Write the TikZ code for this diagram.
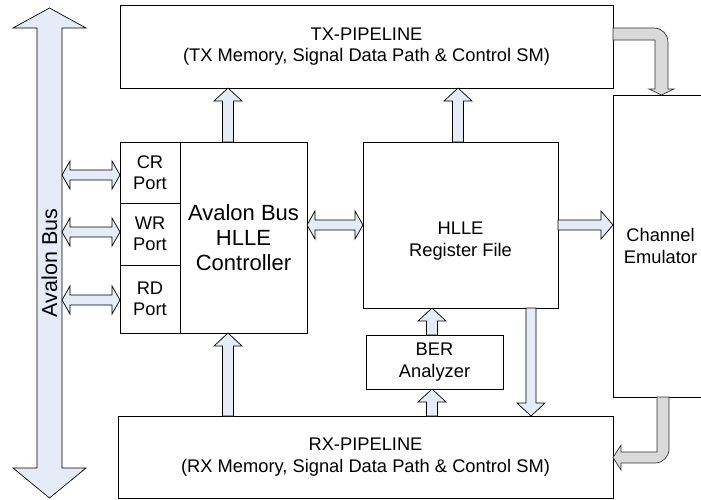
\documentclass[tikz,border=0pt]{standalone}
\usepackage{fontspec}
\setmainfont{Liberation Sans}
\usetikzlibrary{calc}
\definecolor{arrowblue}{RGB}{230,236,247}
\definecolor{arrowgray}{RGB}{218,218,218}
\tikzset{
  blk/.style={draw=black, line width=0.7pt, fill=arrowblue, line join=miter},
  gblk/.style={draw=black!80, line width=0.7pt, fill=arrowgray},
  box/.style={draw=black, line width=0.8pt, anchor=north west, inner sep=0pt, outer sep=0pt, align=center},
  txt/.style={font=\fontsize{18.3}{21.5}\selectfont},
  bigtxt/.style={font=\fontsize{22}{25}\selectfont}
}
\newcommand\vup[3]{\draw[blk] let \p1=(#2), \p2=(#3) in
 ({#1-5.5pt},\y1) -- ({#1-5.5pt},{\y2-13pt}) -- ({#1-14pt},{\y2-13pt}) -- (#1,\y2) -- ({#1+14pt},{\y2-13pt}) -- ({#1+5.5pt},{\y2-13pt}) -- ({#1+5.5pt},\y1) -- cycle;}
\newcommand\vdown[3]{\draw[blk] let \p1=(#2), \p2=(#3) in
 ({#1-5pt},\y1) -- ({#1-5pt},{\y2+13pt}) -- ({#1-14pt},{\y2+13pt}) -- (#1,\y2) -- ({#1+14pt},{\y2+13pt}) -- ({#1+5pt},{\y2+13pt}) -- ({#1+5pt},\y1) -- cycle;}
\newcommand\dblh[3]{\draw[blk] let \p1=(#2), \p2=(#3) in
 (\x1,{-#1pt}) -- ({\x1+8pt},{-#1pt+14pt}) -- ({\x1+8pt},{-#1pt+5pt}) -- ({\x2-8pt},{-#1pt+5pt}) -- ({\x2-8pt},{-#1pt+14pt}) -- (\x2,{-#1pt}) -- ({\x2-8pt},{-#1pt-14pt}) -- ({\x2-8pt},{-#1pt-5pt}) -- ({\x1+8pt},{-#1pt-5pt}) -- ({\x1+8pt},{-#1pt-14pt}) -- cycle;}
\newcommand\hright[3]{\draw[blk] let \p1=(#2), \p2=(#3) in
 (\x1,{-#1pt+5pt}) -- ({\x2-12pt},{-#1pt+5pt}) -- ({\x2-12pt},{-#1pt+14pt}) -- (\x2,{-#1pt}) -- ({\x2-12pt},{-#1pt-14pt}) -- ({\x2-12pt},{-#1pt-5pt}) -- (\x1,{-#1pt-5pt}) -- cycle;}
\begin{document}
\begin{tikzpicture}[x=1pt,y=-1pt]
\useasboundingbox (0,0) rectangle (701,499);
\clip (0,0) rectangle (701,499);
\fill[white] (0,0) rectangle (701,499);

% Avalon bus
\draw[blk] (37,468) -- (37,28) -- (13,28) -- (49.5,8) -- (86,28) -- (62,28) -- (62,468) -- (86,468) -- (49.5,498) -- (13,468) -- cycle;
\node[font=\fontsize{21.5}{25}\selectfont, rotate=90] (busl) at (49.5,263) {Avalon Bus};
\coordinate (busR) at (62,0);

% boxes
\node[box, txt, minimum width=493pt, minimum height=83pt] (tx) at (120,5) {TX-PIPELINE\\(TX Memory, Signal Data Path \& Control SM)};
\node[box, txt, minimum width=60pt, minimum height=61pt] (cr) at (120,142) {CR\\Port};
\node[box, txt, minimum width=60pt, minimum height=62pt] (wr) at (120,203) {WR\\Port};
\node[box, txt, minimum width=60pt, minimum height=68pt] (rd) at (120,265) {RD\\Port};
\node[box, bigtxt, minimum width=127pt, minimum height=191pt] (ctrl) at (180,142) {Avalon Bus\\HLLE\\Controller};
\node[box, minimum width=195pt, minimum height=166pt] (rf) at (363,142) {};
\node[txt, align=center] (rft) at (460.5,241) {HLLE\\Register File};
\node[box, txt, minimum width=137pt, minimum height=54pt] (ber) at (366,335) {BER\\Analyzer};
\node[box, txt, minimum width=495pt, minimum height=82pt] (rx) at (118,416) {RX-PIPELINE\\(RX Memory, Signal Data Path \& Control SM)};
\node[box, txt, minimum width=95pt, minimum height=302pt] (ch) at (613,95) {Channel\\Emulator};

% connectors
\vup{228pt}{ctrl.north}{tx.south}
\vup{228pt}{rx.north}{ctrl.south}
\vup{458pt}{rf.north}{tx.south}
\vup{432pt}{ber.north}{rf.south}
\vup{432pt}{rx.north}{ber.south}
\vdown{531pt}{rf.south}{rx.north}
\dblh{175}{busR}{cr.west}
\dblh{232}{busR}{wr.west}
\dblh{300}{busR}{rd.west}
\dblh{225}{ctrl.east}{rf.west}
\hright{225}{rf.east}{ch.west}

% gray bent arrows
\draw[gblk] (tx.east |- 0,28) -- (654,28) arc[start angle=-90, end angle=0, radius=14] -- (668,89) -- (674,89) -- (661.5,95) -- (649,89) -- (655,89) -- (655,40) -- (tx.east |- 0,40) -- cycle;
\draw[gblk] (657,397) -- (669,397) -- (669,449) arc[start angle=0, end angle=90, radius=14] -- (621,463) -- (621,470) -- (rx.east |- 0,457.5) -- (621,445) -- (621,452) -- (657,452) -- cycle;
\end{tikzpicture}
\end{document}
